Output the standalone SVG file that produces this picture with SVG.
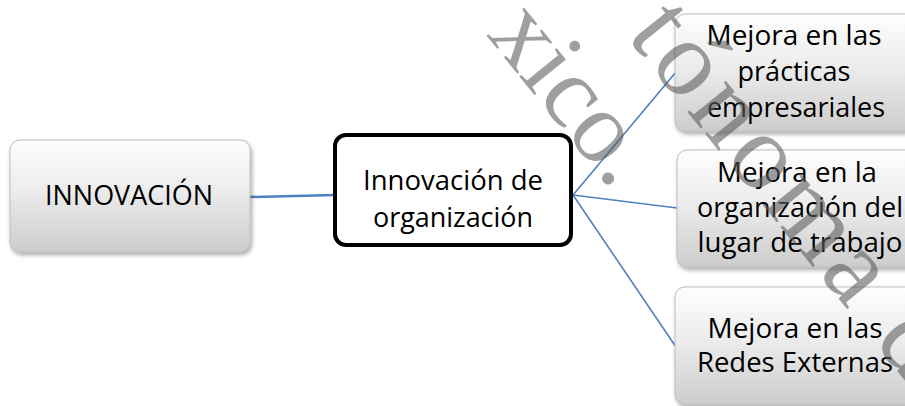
<svg xmlns="http://www.w3.org/2000/svg" width="905" height="406" viewBox="0 0 905 406">
  <defs>
    <linearGradient id="boxFill" x1="0" y1="0" x2="0" y2="1">
      <stop offset="0" stop-color="#fefefe"/>
      <stop offset="0.45" stop-color="#ececec"/>
      <stop offset="1" stop-color="#cdcdcd"/>
    </linearGradient>
    <filter id="shadow" x="-10%" y="-10%" width="125%" height="130%">
      <feDropShadow dx="1.5" dy="2.5" stdDeviation="2" flood-color="#000" flood-opacity="0.35"/>
    </filter>
    <style>
      .box { fill: url(#boxFill); stroke: #bdbdbd; stroke-width: 1; filter: url(#shadow); }
      .main { fill: #ffffff; stroke: #000000; stroke-width: 4; }
      .lbl { font-family: "Open Sans", "Noto Sans", sans-serif; font-size: 27px; fill: #000; text-anchor: middle; }
      .link { stroke: #4f81bd; fill: none; }
      .wm { font-family: "Liberation Serif", "DejaVu Serif", serif; fill: #595959; fill-opacity: 0.58; }
    </style>
  </defs>

  <!-- connectors -->
  <g id="connectors">
    <line class="link" x1="250" y1="197" x2="335" y2="195" stroke-width="2.5"/>
    <line class="link" x1="573" y1="195" x2="676" y2="72" stroke-width="1.6"/>
    <line class="link" x1="573" y1="195" x2="677" y2="208" stroke-width="1.6"/>
    <line class="link" x1="573" y1="195" x2="676" y2="347" stroke-width="1.6"/>
  </g>

  <!-- root -->
  <g id="innovacion">
    <rect class="box" x="10" y="140" width="240" height="112" rx="10"/>
    <text class="lbl" x="129" y="205" textLength="168" lengthAdjust="spacingAndGlyphs">INNOVACIÓN</text>
  </g>

  <!-- central node -->
  <g id="innovacion-organizacion">
    <rect class="main" x="335" y="135" width="236" height="110" rx="11"/>
    <text class="lbl" x="453" y="190" textLength="180" lengthAdjust="spacingAndGlyphs">Innovación de</text>
    <text class="lbl" x="453" y="227" textLength="160" lengthAdjust="spacingAndGlyphs">organización</text>
  </g>

  <!-- branches -->
  <g id="practicas">
    <rect class="box" x="675" y="14" width="240" height="117" rx="10"/>
    <text class="lbl" x="794" y="45" textLength="175" lengthAdjust="spacingAndGlyphs">Mejora en las</text>
    <text class="lbl" x="794" y="81" textLength="113" lengthAdjust="spacingAndGlyphs">prácticas</text>
    <text class="lbl" x="796" y="117" textLength="178" lengthAdjust="spacingAndGlyphs">empresariales</text>
  </g>

  <g id="lugar-trabajo">
    <rect class="box" x="677" y="150" width="240" height="117" rx="10"/>
    <text class="lbl" x="797" y="182" textLength="160" lengthAdjust="spacingAndGlyphs">Mejora en la</text>
    <text class="lbl" x="800" y="217" textLength="206" lengthAdjust="spacingAndGlyphs">organización del</text>
    <text class="lbl" x="800" y="252" textLength="205" lengthAdjust="spacingAndGlyphs">lugar de trabajo</text>
  </g>

  <g id="redes-externas">
    <rect class="box" x="675" y="287" width="240" height="117" rx="10"/>
    <text class="lbl" x="795" y="338" textLength="175" lengthAdjust="spacingAndGlyphs">Mejora en las</text>
    <text class="lbl" x="795" y="372" textLength="196" lengthAdjust="spacingAndGlyphs">Redes Externas</text>
  </g>

  <!-- diagonal watermark lettering -->
  <g id="watermark">
    <text class="wm" font-size="102" transform="translate(486 35) rotate(51)" x="0" y="0">xico.</text>
    <text class="wm" font-size="108" letter-spacing="6" transform="translate(570 -33) rotate(51)" x="88" y="0">tónoma d</text>
  </g>
</svg>
